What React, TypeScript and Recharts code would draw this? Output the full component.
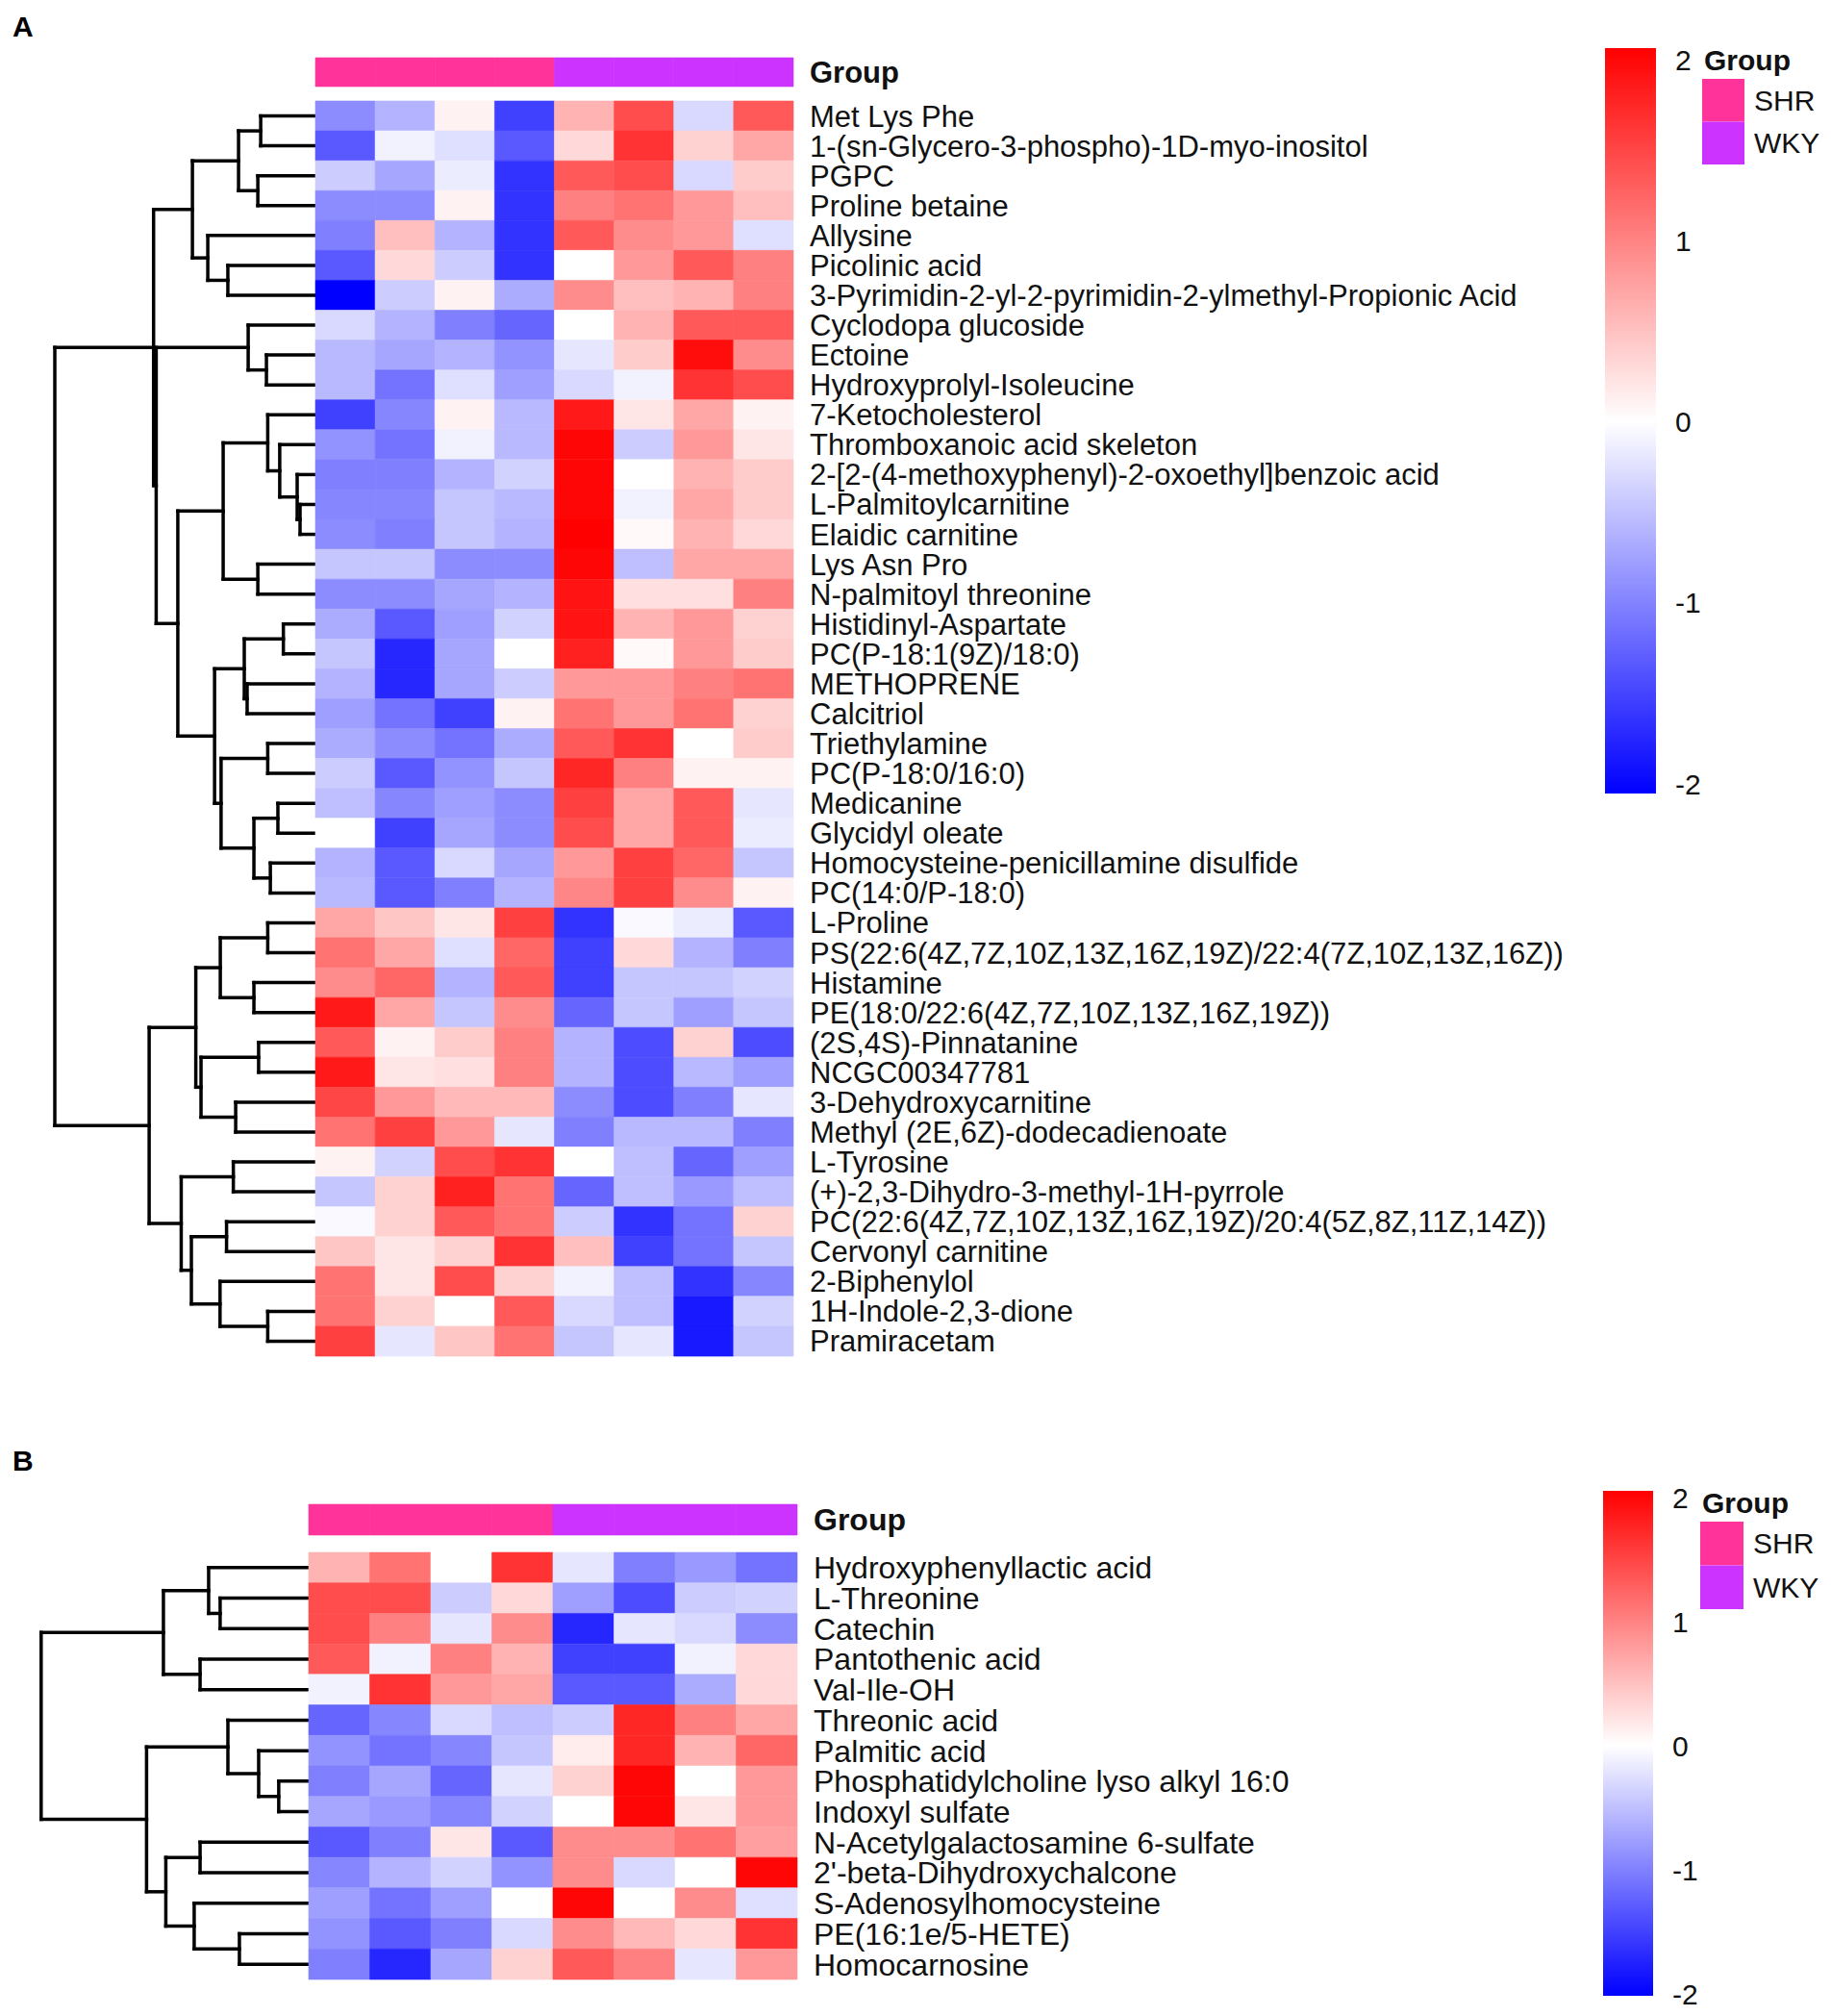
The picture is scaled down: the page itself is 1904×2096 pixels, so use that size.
import React from 'react'
import { ComposedChart, XAxis, YAxis, ReferenceArea, ReferenceLine } from 'recharts'

type Tree = number | [Tree, Tree, number]
type Seg = { x1: number; y1: number; x2: number; y2: number }

const FONT = '"Liberation Sans", Arial, Helvetica, sans-serif'

const groups = ['SHR', 'SHR', 'SHR', 'SHR', 'WKY', 'WKY', 'WKY', 'WKY']
const groupColors: Record<string, string> = { SHR: '#FF3399', WKY: '#CC33FF' }
const legendTicks = [-2, -1, 0, 1, 2]

// ---- panel A ----
const namesA = [
  'Met Lys Phe',
  '1-(sn-Glycero-3-phospho)-1D-myo-inositol',
  'PGPC',
  'Proline betaine',
  'Allysine',
  'Picolinic acid',
  '3-Pyrimidin-2-yl-2-pyrimidin-2-ylmethyl-Propionic Acid',
  'Cyclodopa glucoside',
  'Ectoine',
  'Hydroxyprolyl-Isoleucine',
  '7-Ketocholesterol',
  'Thromboxanoic acid skeleton',
  '2-[2-(4-methoxyphenyl)-2-oxoethyl]benzoic acid',
  'L-Palmitoylcarnitine',
  'Elaidic carnitine',
  'Lys Asn Pro',
  'N-palmitoyl threonine',
  'Histidinyl-Aspartate',
  'PC(P-18:1(9Z)/18:0)',
  'METHOPRENE',
  'Calcitriol',
  'Triethylamine',
  'PC(P-18:0/16:0)',
  'Medicanine',
  'Glycidyl oleate',
  'Homocysteine-penicillamine disulfide',
  'PC(14:0/P-18:0)',
  'L-Proline',
  'PS(22:6(4Z,7Z,10Z,13Z,16Z,19Z)/22:4(7Z,10Z,13Z,16Z))',
  'Histamine',
  'PE(18:0/22:6(4Z,7Z,10Z,13Z,16Z,19Z))',
  '(2S,4S)-Pinnatanine',
  'NCGC00347781',
  '3-Dehydroxycarnitine',
  'Methyl (2E,6Z)-dodecadienoate',
  'L-Tyrosine',
  '(+)-2,3-Dihydro-3-methyl-1H-pyrrole',
  'PC(22:6(4Z,7Z,10Z,13Z,16Z,19Z)/20:4(5Z,8Z,11Z,14Z))',
  'Cervonyl carnitine',
  '2-Biphenylol',
  '1H-Indole-2,3-dione',
  'Pramiracetam',
]

const valuesA = [
  [-0.9, -0.6, 0.1, -1.5, 0.6, 1.4, -0.3, 1.3],
  [-1.3, -0.1, -0.25, -1.3, 0.3, 1.6, 0.35, 0.7],
  [-0.4, -0.7, -0.15, -1.6, 1.3, 1.4, -0.3, 0.4],
  [-0.9, -0.9, 0.1, -1.6, 1.0, 1.1, 0.8, 0.5],
  [-1.0, 0.5, -0.6, -1.6, 1.3, 0.9, 0.8, -0.25],
  [-1.3, 0.3, -0.4, -1.6, 0.0, 0.8, 1.3, 1.0],
  [-2.0, -0.4, 0.1, -0.65, 0.9, 0.5, 0.6, 1.0],
  [-0.3, -0.6, -1.0, -1.2, 0.0, 0.6, 1.3, 1.3],
  [-0.55, -0.7, -0.6, -0.85, -0.2, 0.4, 1.9, 0.9],
  [-0.55, -1.1, -0.25, -0.75, -0.3, -0.1, 1.6, 1.4],
  [-1.5, -0.95, 0.1, -0.55, 1.8, 0.2, 0.7, 0.1],
  [-0.85, -1.1, -0.1, -0.55, 1.95, -0.4, 0.8, 0.2],
  [-1.0, -1.0, -0.6, -0.35, 1.95, 0.0, 0.6, 0.4],
  [-0.95, -0.95, -0.45, -0.55, 1.95, -0.1, 0.7, 0.4],
  [-0.9, -1.0, -0.45, -0.6, 2.0, 0.05, 0.6, 0.3],
  [-0.45, -0.45, -0.9, -0.9, 1.95, -0.5, 0.7, 0.7],
  [-0.9, -0.9, -0.7, -0.6, 1.85, 0.25, 0.25, 1.0],
  [-0.65, -1.3, -0.75, -0.35, 1.85, 0.6, 0.8, 0.35],
  [-0.45, -1.7, -0.7, 0.0, 1.75, 0.05, 0.8, 0.4],
  [-0.6, -1.7, -0.7, -0.4, 0.8, 0.8, 1.0, 1.1],
  [-0.75, -1.1, -1.5, 0.1, 1.1, 0.8, 1.1, 0.35],
  [-0.65, -0.9, -1.1, -0.65, 1.3, 1.6, 0.0, 0.4],
  [-0.4, -1.3, -0.85, -0.45, 1.7, 1.0, 0.1, 0.1],
  [-0.5, -0.95, -0.75, -0.9, 1.5, 0.7, 1.3, -0.2],
  [0.0, -1.5, -0.7, -0.9, 1.4, 0.7, 1.3, -0.15],
  [-0.6, -1.3, -0.3, -0.7, 0.8, 1.5, 1.2, -0.45],
  [-0.55, -1.3, -1.0, -0.6, 0.95, 1.5, 0.9, 0.1],
  [0.7, 0.45, 0.2, 1.5, -1.6, -0.05, -0.15, -1.3],
  [1.1, 0.7, -0.25, 1.2, -1.5, 0.3, -0.6, -1.0],
  [0.9, 1.2, -0.6, 1.3, -1.5, -0.45, -0.45, -0.35],
  [1.8, 0.7, -0.45, 0.9, -1.2, -0.45, -0.75, -0.45],
  [1.3, 0.1, 0.4, 1.0, -0.6, -1.4, 0.35, -1.4],
  [1.8, 0.2, 0.25, 1.0, -0.6, -1.4, -0.55, -0.75],
  [1.45, 0.8, 0.55, 0.55, -0.9, -1.4, -1.0, -0.2],
  [1.1, 1.5, 0.8, -0.2, -1.0, -0.55, -0.55, -1.0],
  [0.1, -0.35, 1.4, 1.6, 0.0, -0.5, -1.2, -0.75],
  [-0.45, 0.35, 1.75, 1.1, -1.2, -0.5, -0.8, -0.5],
  [-0.05, 0.35, 1.3, 1.1, -0.4, -1.6, -1.1, 0.35],
  [0.45, 0.2, 0.35, 1.6, 0.5, -1.5, -1.1, -0.45],
  [1.1, 0.2, 1.4, 0.35, -0.1, -0.5, -1.6, -0.95],
  [1.1, 0.35, 0.0, 1.3, -0.3, -0.5, -1.8, -0.35],
  [1.5, -0.2, 0.45, 1.1, -0.45, -0.2, -1.8, -0.45],
]

// row clustering: [left, right, merge height]
const treeA: Tree = [
  [
    [[[0, 1, 2.1], [2, 3, 2.21], 2.95], [4, [5, 6, 3.36], 4.13], 4.72],
    [
      [7, [8, 9, 1.88], 2.58],
      [
        [[10, [11, [12, [13, 14, 0.59], 0.7], 1.37], 1.83], [15, 16, 2.21], 3.54],
        [
          [[17, 18, 1.23], [19, 20, 2.62], 2.73],
          [[21, 22, 1.83], [[23, 24, 1.44], [25, 26, 1.73], 2.36], 3.62],
          3.87,
        ],
        5.28,
      ],
      6.11,
    ],
    6.21,
  ],
  [
    [[[27, 28, 1.83], [29, 30, 2.36], 3.65], [[31, 32, 2.18], [33, 34, 3.06], 4.39], 4.59],
    [[35, 36, 3.15], [[37, 38, 3.41], [39, [40, 41, 1.83], 3.66], 4.76], 5.15],
    6.38,
  ],
  10,
]

// ---- panel B ----
const namesB = [
  'Hydroxyphenyllactic acid',
  'L-Threonine',
  'Catechin',
  'Pantothenic acid',
  'Val-Ile-OH',
  'Threonic acid',
  'Palmitic acid',
  'Phosphatidylcholine lyso alkyl 16:0',
  'Indoxyl sulfate',
  'N-Acetylgalactosamine 6-sulfate',
  "2'-beta-Dihydroxychalcone",
  'S-Adenosylhomocysteine',
  'PE(16:1e/5-HETE)',
  'Homocarnosine',
]

const valuesB = [
  [0.6, 1.1, 0.0, 1.6, -0.2, -1.0, -0.8, -1.1],
  [1.4, 1.4, -0.4, 0.3, -0.75, -1.4, -0.4, -0.35],
  [1.4, 1.0, -0.2, 0.9, -1.7, -0.2, -0.3, -0.9],
  [1.3, -0.1, 1.0, 0.6, -1.5, -1.5, -0.1, 0.3],
  [-0.1, 1.6, 0.8, 0.7, -1.3, -1.3, -0.65, 0.3],
  [-1.2, -0.95, -0.3, -0.5, -0.4, 1.7, 1.0, 0.7],
  [-0.85, -1.1, -0.95, -0.45, 0.15, 1.7, 0.6, 1.2],
  [-1.0, -0.7, -1.2, -0.2, 0.35, 1.95, 0.0, 0.8],
  [-0.7, -0.8, -0.95, -0.35, 0.0, 1.95, 0.2, 0.8],
  [-1.3, -1.0, 0.2, -1.3, 0.9, 0.9, 1.1, 0.75],
  [-0.95, -0.6, -0.35, -0.85, 0.9, -0.3, 0.0, 1.95],
  [-0.75, -1.1, -0.75, 0.0, 1.95, 0.0, 0.9, -0.25],
  [-0.85, -1.3, -1.0, -0.3, 0.9, 0.55, 0.3, 1.6],
  [-1.0, -1.7, -0.7, 0.35, 1.3, 1.0, -0.2, 0.8],
]

const treeB: Tree = [
  [[0, [1, 2, 3.31], 3.74], [3, 4, 4.06], 5.43],
  [[5, [6, [7, 8, 1.12], 1.87], 3.02], [[9, 10, 4.06], [11, [12, 13, 2.59], 4.28], 5.34], 6.06],
  10,
]

function heatColor(v: number) {
  const t = Math.min(Math.abs(v), 2) / 2
  const c = Math.round(255 * (1 - t))
  return v >= 0 ? `rgb(255,${c},${c})` : `rgb(${c},${c},255)`
}

function layoutTree(t: Tree, segs: Seg[]): { y: number; h: number } {
  if (typeof t === 'number') return { y: t + 0.5, h: 0 }
  const a = layoutTree(t[0], segs)
  const b = layoutTree(t[1], segs)
  const h = t[2]
  segs.push({ x1: a.h, y1: a.y, x2: h, y2: a.y })
  segs.push({ x1: b.h, y1: b.y, x2: h, y2: b.y })
  segs.push({ x1: h, y1: a.y, x2: h, y2: b.y })
  return { y: (a.y + b.y) / 2, h }
}

type Box = { left: number; top: number; width: number; height: number; margin: { top: number; right: number; bottom: number; left: number } }

function Dendrogram({ tree, yDomain, box }: { tree: Tree; yDomain: [number, number]; box: Box }) {
  const segs: Seg[] = []
  layoutTree(tree, segs)
  return (
    <div style={{ position: 'absolute', left: box.left, top: box.top }}>
      <ComposedChart width={box.width} height={box.height} margin={box.margin}>
        <XAxis type="number" dataKey="x" domain={[0, 10]} reversed hide allowDataOverflow />
        <YAxis type="number" domain={yDomain} reversed hide allowDataOverflow />
        {segs.map((s, i) => (
          <ReferenceLine key={i} segment={[{ x: s.x1, y: s.y1 }, { x: s.x2, y: s.y2 }]}
            stroke="#000" strokeWidth={3.5} strokeLinecap="square" ifOverflow="visible" />
        ))}
      </ComposedChart>
    </div>
  )
}

function RowTick(props: any) {
  const { x, y, payload, labels, fontSize } = props
  const v = payload.value as number
  const isGroup = v < 0
  return (
    <text x={x} y={y} dy="0.355em" textAnchor="start" fontSize={fontSize} fontFamily={FONT}
      fontWeight={isGroup ? 'bold' : 'normal'} fill="#111">
      {isGroup ? 'Group' : labels[Math.floor(v)]}
    </text>
  )
}

function Heatmap({ names, values, yDomain, groupBand, box, fontSize }: {
  names: string[]; values: number[][]; yDomain: [number, number]; groupBand: [number, number]; box: Box; fontSize: number
}) {
  const ticks = [(groupBand[0] + groupBand[1]) / 2, ...names.map((_, i) => i + 0.5)]
  return (
    <div style={{ position: 'absolute', left: box.left, top: box.top }}>
      <ComposedChart width={box.width} height={box.height} margin={box.margin}>
        <XAxis type="number" dataKey="x" domain={[0, groups.length]} hide allowDataOverflow />
        <YAxis type="number" orientation="right" domain={yDomain} reversed allowDataOverflow
          ticks={ticks} interval={0} tickLine={false} axisLine={false} tickSize={0} tickMargin={17}
          width={box.width - box.margin.left - box.margin.right - (groups.length * 0) - (box as any).plotWidth}
          tick={<RowTick labels={names} fontSize={fontSize} />} />
        {groups.map((g, c) => (
          <ReferenceArea key={`g${c}`} x1={c} x2={c + 1} y1={groupBand[0]} y2={groupBand[1]}
            fill={groupColors[g]} fillOpacity={1} stroke={groupColors[g]} strokeWidth={0.6} ifOverflow="visible" />
        ))}
        {values.map((row, r) =>
          row.map((v, c) => (
            <ReferenceArea key={`${r}-${c}`} x1={c} x2={c + 1} y1={r} y2={r + 1}
              fill={heatColor(v)} fillOpacity={1} stroke={heatColor(v)} strokeWidth={0.6} ifOverflow="visible" />
          ))
        )}
      </ComposedChart>
    </div>
  )
}

function ColorBar({ id, domain, box }: { id: string; domain: [number, number]; box: Box & { plotWidth: number } }) {
  return (
    <div style={{ position: 'absolute', left: box.left, top: box.top }}>
      <ComposedChart width={box.width} height={box.height} margin={box.margin}>
        <defs>
          <linearGradient id={id} x1="0" y1="0" x2="0" y2="1">
            <stop offset="0%" stopColor={heatColor(domain[1])} />
            <stop offset={`${(domain[1] / (domain[1] - domain[0])) * 100}%`} stopColor="#ffffff" />
            <stop offset="100%" stopColor={heatColor(domain[0])} />
          </linearGradient>
        </defs>
        <XAxis type="number" dataKey="x" domain={[0, 1]} hide allowDataOverflow />
        <YAxis type="number" orientation="right" domain={domain} allowDataOverflow ticks={legendTicks} interval={0}
          tickLine={false} axisLine={false} tickSize={0} tickMargin={20}
          width={box.width - box.margin.left - box.margin.right - box.plotWidth}
          tick={{ fontSize: 30, fill: '#111', fontFamily: FONT }} />
        <ReferenceArea x1={0} x2={1} y1={domain[0]} y2={domain[1]} fill={`url(#${id})`} fillOpacity={1} ifOverflow="visible" />
      </ComposedChart>
    </div>
  )
}

function GroupLegend({ x, y, w, h }: { x: number; y: number; w: number; h: number }) {
  const keys = Object.keys(groupColors)
  return (
    <svg style={{ position: 'absolute', left: 0, top: 0, overflow: 'visible' }} width={1} height={1}>
      <text x={x + 2} y={y} dy="0.355em" fontSize={30} fontWeight="bold" fontFamily={FONT} fill="#111">Group</text>
      {keys.map((k, i) => (
        <g key={k}>
          <rect x={x} y={y + 20 + i * h} width={w} height={h} fill={groupColors[k]} />
          <text x={x + w + 10} y={y + 20 + i * h + h / 2} dy="0.355em" fontSize={30} fontFamily={FONT} fill="#111">{k}</text>
        </g>
      ))}
    </svg>
  )
}

export default function App() {
  const yDomainA: [number, number] = [-1.5, 42]
  const yDomainB: [number, number] = [-1.7, 14]
  const heatA = { left: 300, top: 0, width: 1604, height: 1440, margin: { top: 58.4, right: 0, bottom: 30, left: 28 }, plotWidth: 497 }
  const heatB = { left: 300, top: 1540, width: 1604, height: 556, margin: { top: 20.1, right: 0, bottom: 38, left: 21 }, plotWidth: 508 }
  return (
    <div style={{ position: 'absolute', left: 0, top: 0, width: 1904, height: 2096, background: '#fff', fontFamily: FONT }}>
      <div style={{ position: 'absolute', left: 13, top: 12, fontSize: 30, fontWeight: 'bold', lineHeight: '32px' }}>A</div>
      <div style={{ position: 'absolute', left: 13, top: 1503, fontSize: 30, fontWeight: 'bold', lineHeight: '32px' }}>B</div>

      <Dendrogram tree={treeA} yDomain={yDomainA}
        box={{ left: 0, top: 0, width: 340, height: 1440, margin: { top: 58.4, right: 12, bottom: 30, left: 57 } }} />
      <Heatmap names={namesA} values={valuesA} yDomain={yDomainA} groupBand={[-1.448, -0.483]} box={heatA} fontSize={31} />
      <ColorBar id="cbA" domain={[-2.053, 2.064]}
        box={{ left: 1660, top: 0, width: 244, height: 850, margin: { top: 50, right: 0, bottom: 25, left: 9 }, plotWidth: 53 }} />
      <GroupLegend x={1770} y={62} w={44} h={44.5} />

      <Dendrogram tree={treeB} yDomain={yDomainB}
        box={{ left: 0, top: 1540, width: 340, height: 556, margin: { top: 20.1, right: 19, bottom: 38, left: 42.8 } }} />
      <Heatmap names={namesB} values={valuesB} yDomain={yDomainB} groupBand={[-1.577, -0.568]} box={heatB} fontSize={32} />
      <ColorBar id="cbB" domain={[-2.016, 2.054]}
        box={{ left: 1660, top: 1530, width: 244, height: 566, margin: { top: 20, right: 0, bottom: 21, left: 7 }, plotWidth: 52 }} />
      <GroupLegend x={1768} y={1562} w={45} h={45.5} />
    </div>
  )
}
